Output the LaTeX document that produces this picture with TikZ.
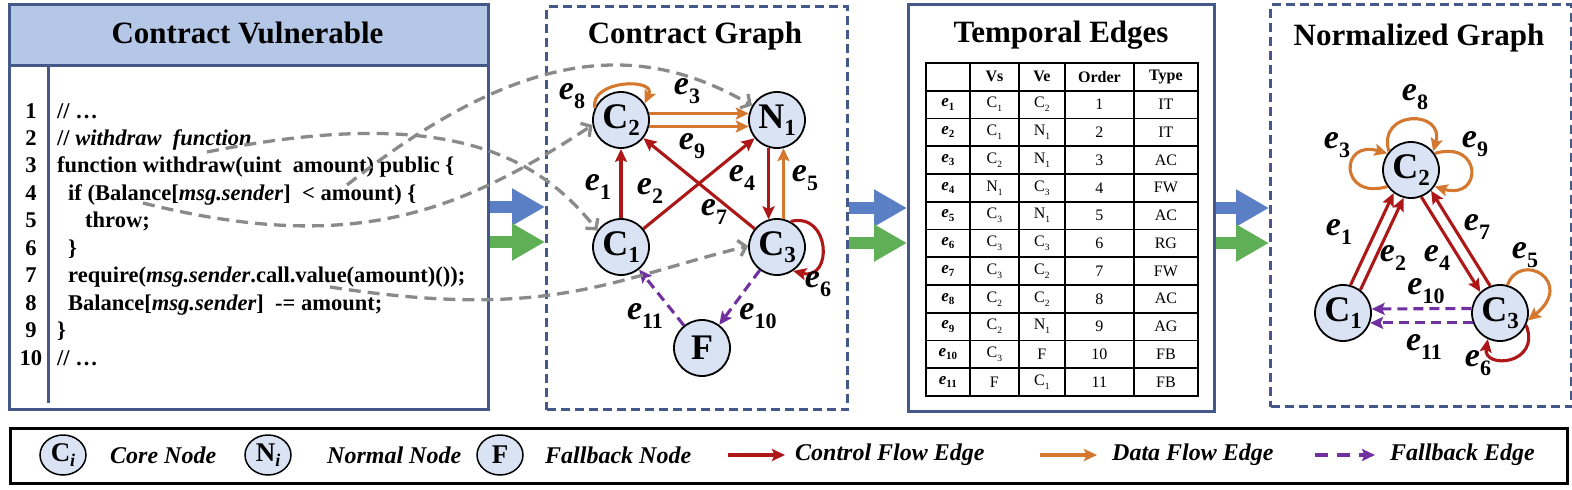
\documentclass[tikz,border=0pt]{standalone}
\usepackage{fontspec}
\setmainfont{Liberation Serif}
\usetikzlibrary{arrows.meta,calc,shapes.geometric,matrix}
\definecolor{panelblue}{HTML}{44598A}
\definecolor{headfill}{HTML}{B4C7E7}
\definecolor{nodefill}{HTML}{DAE3F3}
\definecolor{cred}{HTML}{AE1717}
\definecolor{corange}{HTML}{D4782F}
\definecolor{cpurple}{HTML}{7030A0}
\definecolor{cgray}{HTML}{8A8A8A}
\definecolor{ablue}{HTML}{5B7FC4}
\definecolor{agreen}{HTML}{5EAF55}
\newcommand\fs[1]{\fontsize{#1}{#1}\selectfont}
\newcommand\elab[1]{{\itshape e}\raisebox{-0.28em}{\fs{22}#1}}
\newcommand\nlab[2]{#1\raisebox{-0.2em}{\fs{23}#2}}
\newcommand\te[1]{{\fs{17}\bfseries\itshape e}\raisebox{-0.2em}{\fs{11}\bfseries #1}}
\newcommand\tc[2]{#1\raisebox{-0.25em}{\fs{9.5}#2}}
\tikzset{
  panel/.style={draw=panelblue, line width=3pt, inner sep=0pt, anchor=north west},
  dpanel/.style={panel, dash pattern=on 9pt off 5pt},
  ptitle/.style={anchor=base, font=\fs{31}\bfseries, inner sep=0pt},
  code/.style={anchor=base west, font=\fs{22.5}\bfseries, inner sep=0pt},
  lnum/.style={anchor=base, font=\fs{22.5}\bfseries, inner sep=0pt},
  gn/.style={circle, draw=black, line width=1.8pt, fill=nodefill, minimum size=56pt, inner sep=0pt, font=\fs{36}\bfseries},
  lbl/.style={font=\fs{34}\bfseries, inner sep=0pt},
  tip/.style={-{Stealth[length=13pt,width=12pt,inset=2.5pt]}},
  ctrl/.style={draw=cred, line width=3.1pt, tip},
  data/.style={draw=corange, line width=3.1pt, tip},
  fb/.style={draw=cpurple, line width=3.1pt, dash pattern=on 10pt off 6pt, tip},
  gcurve/.style={draw=cgray, line width=3.3pt, dash pattern=on 12pt off 7pt, -{Straight Barb[length=7pt,width=16pt]}},
  blockb/.style={draw=ablue, line width=12pt, -{Triangle[length=33pt,width=35pt]}},
  blockg/.style={draw=agreen, line width=12pt, -{Triangle[length=33pt,width=35pt]}},
  lgn/.style={ellipse, draw=black, line width=1.5pt, fill=nodefill, minimum width=46pt, minimum height=40pt, inner sep=0pt, font=\fs{27}\bfseries},
  lgt/.style={anchor=west, font=\fs{24}\bfseries\itshape, inner sep=0pt},
}
\begin{document}
\begin{tikzpicture}[x=1pt,y=1pt]
\useasboundingbox (0,0) rectangle (1572,-490);

% ---------- panels
\node[panel, minimum width=479pt, minimum height=405pt] (P1) at (8,-3) {};
\node[panel, fill=headfill, minimum width=479pt, minimum height=61pt] (H1) at (8,-3) {};
\node[ptitle] (T1) at (247.5,-43) {Contract Vulnerable};
\draw[panelblue, line width=3pt] (48,-64) -- (48,-403);
\node[dpanel, minimum width=301pt, minimum height=403pt] (P2) at (545,-5) {};
\node[ptitle] (T2) at (695,-43) {Contract Graph};
\node[panel, minimum width=306pt, minimum height=407pt] (P3) at (907,-3) {};
\node[ptitle] (T3) at (1061,-42) {Temporal Edges};
\node[dpanel, minimum width=301pt, minimum height=402pt] (P4) at (1269,-3) {};
\node[ptitle] (T4) at (1419,-45) {Normalized Graph};

% ---------- code
\node[lnum] (n1) at (31,-118) {1};
\node[lnum] (n2) at (31,-145.4) {2};
\node[lnum] (n3) at (31,-172.9) {3};
\node[lnum] (n4) at (31,-200.3) {4};
\node[lnum] (n5) at (31,-227.8) {5};
\node[lnum] (n6) at (31,-255.2) {6};
\node[lnum] (n7) at (31,-282.6) {7};
\node[lnum] (n8) at (31,-310.1) {8};
\node[lnum] (n9) at (31,-337.5) {9};
\node[lnum] (n10) at (31,-365) {10};
\node[code] (c1) at (57,-118) {// …};
\node[code] (c2) at (57,-145.4) {// \textit{withdraw\ \ function}};
\node[code] (c3) at (57,-172.9) {function withdraw(uint\ \ amount) public \{};
\node[code] (c4) at (68,-200.3) {if (Balance[\textit{msg.sender}]\ \ < amount) \{};
\node[code] (c5) at (85,-227.8) {throw;};
\node[code] (c6) at (68,-255.2) {\}};
\node[code] (c7) at (68,-282.6) {require(\textit{msg.sender}.call.value(amount)());};
\node[code] (c8) at (68,-310.1) {Balance[\textit{msg.sender}]\ \ -= amount;};
\node[code] (c9) at (57,-337.5) {\}};
\node[code] (c10) at (57,-365) {// …};

% ---------- contract graph
\node[gn] (C2) at (621,-120) {\nlab{C}{2}};
\node[gn] (N1) at (777,-120) {\nlab{N}{1}};
\node[gn] (C1) at (621,-247) {\nlab{C}{1}};
\node[gn] (C3) at (777,-247) {\nlab{C}{3}};
\node[gn] (F) at (702,-348) {F};

\draw[ctrl] (C1) -- (C2);
\draw[ctrl] (C1) -- (N1);
\draw[ctrl] (C3) -- (C2);
\draw[ctrl] (N1.-107) -- (C3.107);
\draw[data] (C3.77) -- (N1.-77);
\draw[data] (C2.13) -- (N1.167);
\draw[data] (C2.-13) -- (N1.-167);
\draw[data] (C2.155) .. controls +(-5,28) and +(12,26) .. (C2.35);
\draw[ctrl] (C3.62) .. controls +(40,10) and +(40,-10) .. (C3.-56);
\draw[fb] (C3) -- (F);
\draw[fb] (F) -- (C1);

\node[lbl] (a8) at (572,-96) {\elab{8}};
\node[lbl] (a3) at (687,-91) {\elab{3}};
\node[lbl] (a9) at (692,-146) {\elab{9}};
\node[lbl] (a1) at (598,-187) {\elab{1}};
\node[lbl] (a2) at (650,-191) {\elab{2}};
\node[lbl] (a4) at (742,-178) {\elab{4}};
\node[lbl] (a5) at (805,-178) {\elab{5}};
\node[lbl] (a7) at (714,-212) {\elab{7}};
\node[lbl] (a6) at (818,-284) {\elab{6}};
\node[lbl] (a11) at (645,-316) {\elab{11}};
\node[lbl] (a10) at (758,-316) {\elab{10}};

% ---------- gray mapping curves
\coordinate (gA) at (347,-185);
\coordinate (gB) at (207,-152);
\coordinate (gC) at (143,-203);
\coordinate (gD) at (330,-287);
\draw[gcurve] (gA) .. controls (517,-51) and (635,-37.5) .. (N1.150);
\draw[gcurve] (gB) .. controls (447,-104) and (538,-156) .. (C1.145);
\draw[gcurve] (gC) .. controls (353,-255.5) and (459,-212.5) .. (C2.190);
\draw[gcurve] (gD) .. controls (550,-321) and (610,-280) .. (C3.178);

% ---------- block arrows
\coordinate (b1) at (P1.east);
\coordinate (g1) at ([yshift=-35pt]P1.east);
\coordinate (b2) at (P2.east);
\coordinate (g2) at ([yshift=-35pt]P2.east);
\coordinate (b3) at (P3.east);
\coordinate (g3) at ([yshift=-35pt]P3.east);
\draw[blockb] (b1) -- (b1 -| P2.west);
\draw[blockg] (g1) -- (g1 -| P2.west);
\draw[blockb] (b2) -- (b2 -| P3.west);
\draw[blockg] (g2) -- (g2 -| P3.west);
\draw[blockb] (b3) -- (b3 -| P4.west);
\draw[blockg] (g3) -- (g3 -| P4.west);

% ---------- table
\matrix (TB) [matrix of nodes, anchor=north west, inner sep=0pt, outer sep=0pt,
  column sep=-1.8pt, row sep=-1.8pt,
  nodes={draw, line width=1.8pt, minimum height=27.75pt, inner sep=0pt, anchor=center, font=\fs{16}},
  row 1/.style={nodes={font=\fs{16}\bfseries}},
  column 1/.style={nodes={minimum width=44pt}},
  column 2/.style={nodes={minimum width=49pt}},
  column 3/.style={nodes={minimum width=46pt}},
  column 4/.style={nodes={minimum width=69pt}},
  column 5/.style={nodes={minimum width=64pt}}] at (925,-62) {
\phantom{x} & Vs & Ve & Order & Type \\
\te{1} & \tc{C}{1} & \tc{C}{2} & 1 & IT \\
\te{2} & \tc{C}{1} & \tc{N}{1} & 2 & IT \\
\te{3} & \tc{C}{2} & \tc{N}{1} & 3 & AC \\
\te{4} & \tc{N}{1} & \tc{C}{3} & 4 & FW \\
\te{5} & \tc{C}{3} & \tc{N}{1} & 5 & AC \\
\te{6} & \tc{C}{3} & \tc{C}{3} & 6 & RG \\
\te{7} & \tc{C}{3} & \tc{C}{2} & 7 & FW \\
\te{8} & \tc{C}{2} & \tc{C}{2} & 8 & AC \\
\te{9} & \tc{C}{2} & \tc{N}{1} & 9 & AG \\
\te{10} & \tc{C}{3} & F & 10 & FB \\
\te{11} & F & \tc{C}{1} & 11 & FB \\
};

% ---------- normalized graph
\node[gn] (D2) at (1411,-170) {\nlab{C}{2}};
\node[gn] (D1) at (1343,-313) {\nlab{C}{1}};
\node[gn] (D3) at (1500,-313) {\nlab{C}{3}};

\draw[ctrl] (D1.75.9) -- (D2.233.2);
\draw[ctrl] (D1.53.2) -- (D2.255.9);
\draw[ctrl] (D2.-69.4) -- (D3.133.2);
\draw[ctrl] (D3.110.8) -- (D2.-46.8);
\draw[fb] (D3.171.8) -- (D1.8.2);
\draw[fb] (D3.200.9) -- (D1.-20.9);
\draw[data] (D2.140) .. controls +(-12,42) and +(12,42) .. (D2.40);
\draw[data] (D2.215) .. controls +(-48,-14) and +(-48,14) .. (D2.145);
\draw[data] (D2.35) .. controls +(48,14) and +(48,-14) .. (D2.-35);
\draw[data] (D3.75) .. controls +(13,35) and +(48,39) .. (D3.-15);
\draw[ctrl] (D3.-25) .. controls +(15,-40) and +(-5,-30) .. (D3.-115);

\node[lbl] (d8) at (1415,-97) {\elab{8}};
\node[lbl] (d3) at (1337,-145) {\elab{3}};
\node[lbl] (d9) at (1475,-144) {\elab{9}};
\node[lbl] (d1) at (1339,-232) {\elab{1}};
\node[lbl] (d2) at (1393,-258) {\elab{2}};
\node[lbl] (d4) at (1437,-258) {\elab{4}};
\node[lbl] (d7) at (1477,-227) {\elab{7}};
\node[lbl] (d5) at (1525,-255) {\elab{5}};
\node[lbl] (d10) at (1426,-291) {\elab{10}};
\node[lbl] (d11) at (1424,-347) {\elab{11}};
\node[lbl] (d6) at (1478,-363) {\elab{6}};

% ---------- legend
\node[draw=black, line width=3pt, minimum width=1557pt, minimum height=55pt, inner sep=0pt, anchor=north west] (LG) at (9,-427) {};
\node[lgn] (LC) at (63,-455) {C\raisebox{-0.2em}{\fs{18}\itshape i}};
\node[lgt] (LCt) at (110,-455) {Core Node};
\node[lgn] (LN) at (268,-455) {N\raisebox{-0.2em}{\fs{18}\itshape i}};
\node[lgt] (LNt) at (327,-455) {Normal Node};
\node[lgn] (LF) at (500,-455) {F};
\node[lgt] (LFt) at (545,-455) {Fallback Node};
\coordinate (r1) at (728,-455);
\coordinate (r2) at (785,-455);
\draw[ctrl] (r1) -- (r2);
\node[lgt] (LRt) at (795,-455) {Control Flow Edge};
\coordinate (o1) at (1040,-455);
\coordinate (o2) at (1097,-455);
\draw[data] (o1) -- (o2);
\node[lgt] (LOt) at (1112,-455) {Data Flow Edge};
\coordinate (p1) at (1315,-455);
\coordinate (p2) at (1375,-455);
\draw[fb, dash pattern=on 13pt off 9pt] (p1) -- (p2);
\node[lgt] (LPt) at (1390,-455) {Fallback Edge};
\end{tikzpicture}
\end{document}
